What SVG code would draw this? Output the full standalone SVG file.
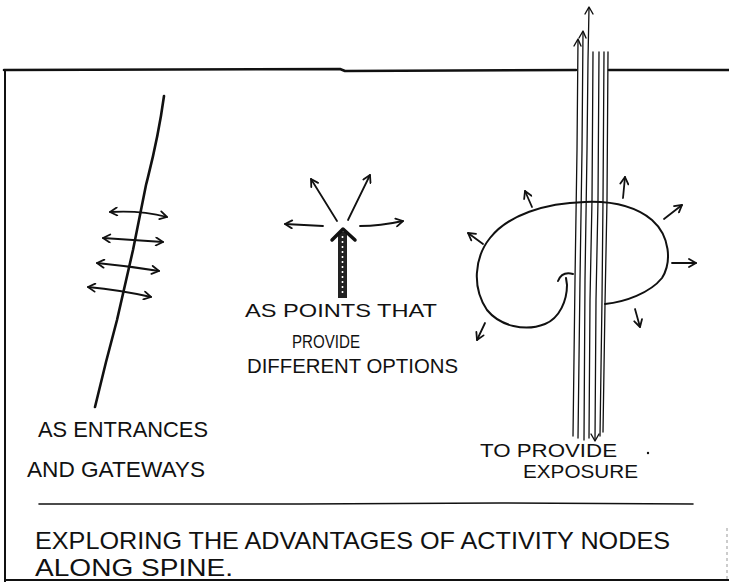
<svg xmlns="http://www.w3.org/2000/svg" width="729" height="582" viewBox="0 0 729 582">
<style>
.ln{fill:none;stroke:#111;stroke-linecap:round;stroke-linejoin:round}
.thick{stroke-width:2.6}
.med{stroke-width:2}
.thin{stroke-width:1.3}
.arr{fill:none;stroke:#111;stroke-width:1.8;stroke-linecap:round;marker-end:url(#hd)}
.dbl{fill:none;stroke:#111;stroke-width:1.8;stroke-linecap:round;marker-end:url(#hd);marker-start:url(#hd)}
.tx{font-family:"Liberation Sans","DejaVu Sans",sans-serif;fill:#111;font-weight:normal}
</style>
<defs>
<marker id="hd" viewBox="0 0 10 10" refX="9" refY="5" markerWidth="10" markerHeight="10" markerUnits="userSpaceOnUse" orient="auto-start-reverse">
<path d="M2,1 L9,5 L2,9" fill="none" stroke="#111" stroke-width="1.8" stroke-linecap="round" stroke-linejoin="round"/>
</marker>
<marker id="hs" viewBox="0 0 10 10" refX="9" refY="5" markerWidth="8" markerHeight="8" markerUnits="userSpaceOnUse" orient="auto">
<path d="M2,1 L9,5 L2,9" fill="none" stroke="#111" stroke-width="1.6" stroke-linecap="round" stroke-linejoin="round"/>
</marker>
</defs>

<g id="frame">
<path class="ln thick" d="M4,70 L340,69 L345,71 L576,70"/>
<path class="ln thick" d="M609,70 L729,70"/>
<path class="ln med" d="M5,70 L5,582"/>
<path class="ln med" d="M5,580 L729,580"/>
<path d="M727,528 L727,580" stroke="#999" stroke-width="1" stroke-dasharray="3 3" fill="none"/>
<path class="ln" stroke-width="1.6" d="M39,504 L300,504 L500,503 L693,504"/>
</g>

<g id="node-entrances">
<path class="ln thick" d="M164,96 C158,140 151,165 146,185 L133,250 L117,320 L106,362 L95,407"/>
<text class="tx" x="38" y="437" font-size="22" textLength="170" lengthAdjust="spacingAndGlyphs">AS ENTRANCES</text>
<text class="tx" x="27" y="477" font-size="22" textLength="178" lengthAdjust="spacingAndGlyphs">AND GATEWAYS</text>
</g>

<g id="node-options">
<rect x="338" y="232" width="9" height="66" fill="#222"/>
<line x1="342.5" y1="236" x2="342.5" y2="296" stroke="#fff" stroke-width="1.6" stroke-dasharray="2 3"/>
<path class="ln" stroke-width="3.5" d="M332,240 L343,229 L355,240"/>
<text class="tx" x="245" y="317" font-size="18" textLength="192" lengthAdjust="spacingAndGlyphs">AS POINTS THAT</text>
<text class="tx" x="292" y="348" font-size="18" textLength="68" lengthAdjust="spacingAndGlyphs">PROVIDE</text>
<text class="tx" x="247" y="373" font-size="20" textLength="211" lengthAdjust="spacingAndGlyphs">DIFFERENT OPTIONS</text>
</g>

<g id="node-exposure">
<g class="ln thin">
<path d="M578,40 L577,150 L575,280 L573,436"/>
<path d="M583,32 L582,150 L580,280 L578,438"/>
<path d="M589,8 L588,60 L587,150 L585,280 L584,440"/>
<path d="M593,52 L592,200 L590,300 L589,438"/>
<path d="M599,52 L598,200 L596,300 L595,440"/>
<path d="M604,52 L603,200 L602,300 L600,436"/>
<path d="M608,52 L607,200 L605,304 L603,432"/>
</g>
<g class="ln" stroke-width="1.4">
<path d="M574,46 L578,39 L581,46"/>
<path d="M579,38 L583,31 L586,38"/>
<path d="M585,14 L589,7 L593,14"/>
<path d="M591,434 L595,441 L599,434"/>
</g>
<path class="ln med" d="M605,304 C625,302 650,293 662,278 C672,262 670,236 652,220 C635,206 610,201 585,202 C545,203 508,215 490,238 C474,258 472,288 487,310 C500,326 525,332 545,324 C560,318 567,300 567,285 L566,278"/>
<path class="ln med" d="M558,281 Q562,271 573,274"/>
<text class="tx" x="480" y="457" font-size="19" textLength="137" lengthAdjust="spacingAndGlyphs">TO PROVIDE</text>
<text class="tx" x="523" y="478" font-size="18" textLength="115" lengthAdjust="spacingAndGlyphs">EXPOSURE</text>
<circle cx="648" cy="453" r="1.2" fill="#111"/>
</g>

<g id="connectors">
<path class="dbl" d="M110,212 Q140,210 167,217"/>
<path class="dbl" d="M103,238 Q133,240 163,242"/>
<path class="dbl" d="M97,263 Q128,266 159,271"/>
<path class="dbl" d="M88,287 Q120,290 151,297"/>
<path class="arr" d="M323,226 L285,224"/>
<path class="arr" d="M360,226 Q380,226 403,221"/>
<path class="arr" d="M337,221 L311,179"/>
<path class="arr" d="M348,220 L370,175"/>
<path class="arr" d="M483,244 L468,233"/>
<path class="arr" d="M532,207 L525,191"/>
<path class="arr" d="M623,198 L625,177"/>
<path class="arr" d="M664,219 L682,205"/>
<path class="arr" d="M672,263 L696,263"/>
<path class="arr" d="M635,309 L640,327"/>
<path class="arr" d="M485,323 L477,340"/>
</g>

<g id="caption">
<text class="tx" x="35" y="549" font-size="24" textLength="635" lengthAdjust="spacingAndGlyphs">EXPLORING THE ADVANTAGES OF  ACTIVITY NODES</text>
<text class="tx" x="35" y="576" font-size="24" textLength="198" lengthAdjust="spacingAndGlyphs">ALONG SPINE.</text>
</g>
</svg>
